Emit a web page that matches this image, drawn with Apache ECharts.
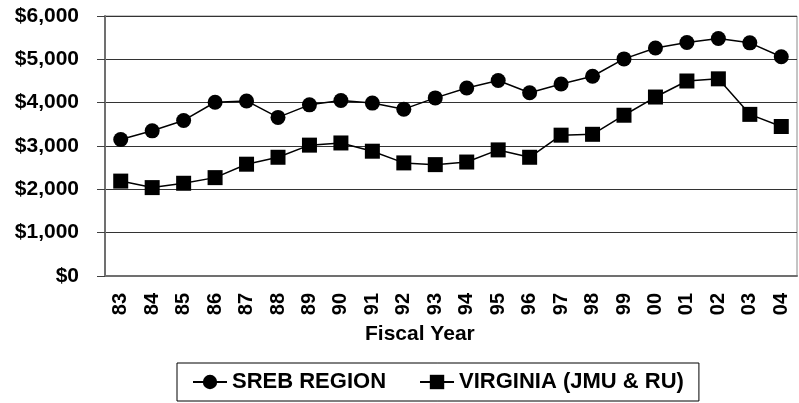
<!DOCTYPE html>
<html>
<head>
<meta charset="utf-8">
<script src="https://cdn.jsdelivr.net/npm/echarts@6/dist/echarts.min.js"></script>
<style>
  html, body { margin: 0; padding: 0; background: #fff; }
  #chart { width: 799px; height: 403px; }
</style>
</head>
<body>
<div id="chart"></div>
<script>
const years = ["83", "84", "85", "86", "87", "88", "89", "90", "91", "92", "93",
  "94", "95", "96", "97", "98", "99", "00", "01", "02", "03", "04"];
const sreb = [3150, 3350, 3590, 4010, 4040, 3660, 3950, 4050, 3990, 3850, 4110,
  4340, 4510, 4230, 4430, 4610, 5010, 5260, 5390, 5480, 5380, 5060];
const virginia = [2190, 2040, 2140, 2270, 2580, 2740, 3020, 3070, 2880, 2610, 2570,
  2630, 2910, 2740, 3250, 3270, 3710, 4130, 4500, 4550, 3730, 3450];

const font = '"Liberation Sans", Arial, sans-serif';
const chart = echarts.init(document.getElementById("chart"), null, { renderer: "canvas" });

function money(v) {
  return "$" + String(v).replace(/\B(?=(\d{3})+(?!\d))/g, ",");
}

chart.setOption({
  animation: false,
  textStyle: { fontFamily: font, color: "#000" },
  title: {
    text: "Fiscal Year",
    left: 365,
    top: 324,
    padding: 0,
    textStyle: { fontFamily: font, fontSize: 21, fontWeight: "bold", color: "#000" },
  },
  grid: {
    left: 105, right: 2, top: 16, bottom: 127,
    show: true, borderColor: "#8a8a8a", borderWidth: 1,
  },
  legend: {
    left: 177,
    top: 363,
    padding: [8, 15, 8, 15],
    itemGap: 33,
    itemWidth: 34,
    itemHeight: 18,
    borderColor: "#000",
    borderWidth: 1,
    textStyle: { fontFamily: font, fontSize: 22, fontWeight: "bold", color: "#000" },
    data: ["SREB REGION", "VIRGINIA (JMU & RU)"],
  },
  xAxis: {
    type: "category",
    data: years,
    boundaryGap: true,
    axisLine: { lineStyle: { color: "#707070", width: 2 } },
    axisTick: { length: 7, lineStyle: { color: "#404040", width: 1 } },
    axisLabel: {
      interval: 0, rotate: 90, margin: 17,
      fontFamily: font, fontSize: 20, fontWeight: "bold", color: "#000",
    },
    splitLine: { show: false },
  },
  yAxis: {
    type: "value",
    min: 0, max: 6000, interval: 1000,
    axisLine: { show: true, lineStyle: { color: "#707070", width: 2 } },
    axisTick: { show: true, length: 8, lineStyle: { color: "#404040" } },
    axisLabel: {
      margin: 26, formatter: money,
      fontFamily: font, fontSize: 21, fontWeight: "bold", color: "#000",
    },
    splitLine: { lineStyle: { color: "#333", width: 1 } },
  },
  series: [
    {
      name: "SREB REGION",
      type: "line",
      data: sreb,
      symbol: "circle",
      symbolSize: 15,
      lineStyle: { color: "#000", width: 1.5 },
      itemStyle: { color: "#000" },
    },
    {
      name: "VIRGINIA (JMU & RU)",
      type: "line",
      data: virginia,
      symbol: "rect",
      symbolSize: 15,
      lineStyle: { color: "#000", width: 1.5 },
      itemStyle: { color: "#000" },
    },
  ],
});
</script>
</body>
</html>
